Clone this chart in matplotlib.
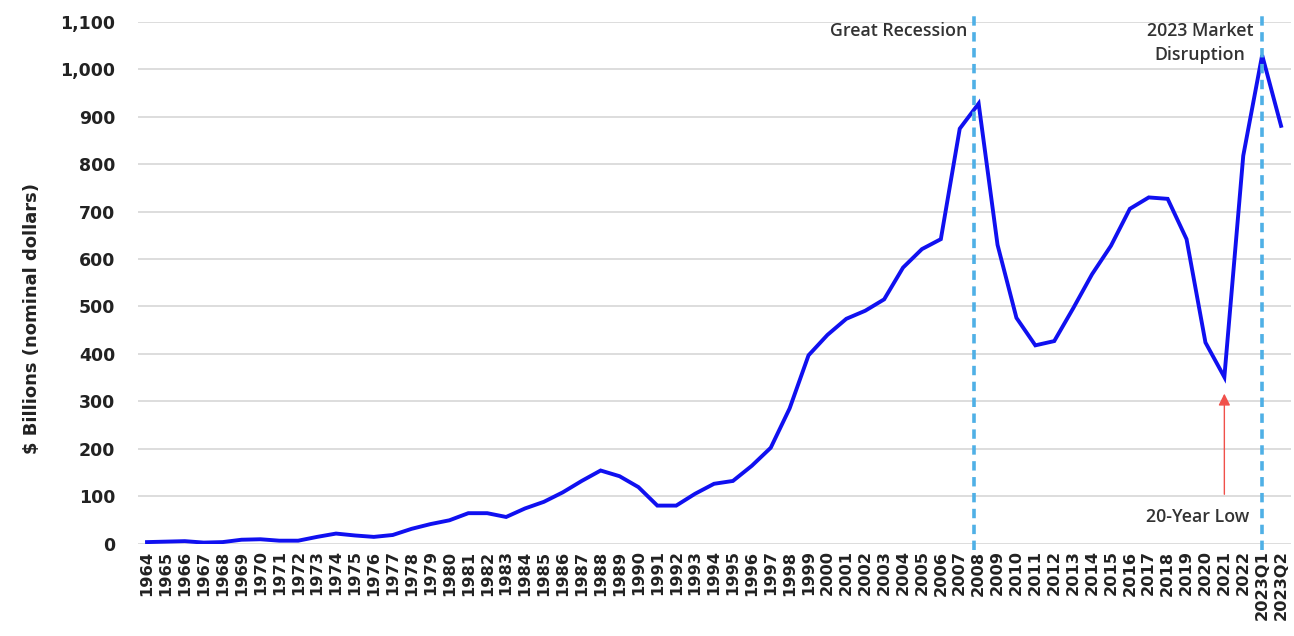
import matplotlib
matplotlib.use("Agg")
import matplotlib.pyplot as plt
import matplotlib.transforms as mtransforms
from matplotlib.ticker import FuncFormatter

# ---- data ----
years = [str(y) for y in range(1964, 2023)] + ["2023Q1", "2023Q2"]
values = [
    3, 4, 5, 2, 3, 8, 9, 6, 6, 14,          # 1964-1973
    21, 17, 14, 18, 31, 41, 49, 64, 64, 56,  # 1974-1983
    74, 88, 108, 132, 154, 142, 119, 80, 80, 105,  # 1984-1993
    126, 132, 164, 202, 285, 397, 440, 474, 491, 515,  # 1994-2003
    582, 621, 642, 875, 928, 630, 476, 418, 427, 496,  # 2004-2013
    568, 628, 706, 730, 727, 642, 424, 351, 818,       # 2014-2022
    1030, 881,                                          # 2023Q1, 2023Q2
]
yticks = [0, 100, 200, 300, 400, 500, 600, 700, 800, 900, 1000, 1100]
events = ["Great Recession", "2023 Market\nDisruption"]
event_pos = [43.75, 59]
low_label = "20-Year Low"
low_idx = 57
ylabel = "$ Billions (nominal dollars)"

plt.rcParams['font.family'] = ['DejaVu Sans']

fig = plt.figure(figsize=(12.94, 6.36), dpi=100)
ax = fig.add_axes([0.1063, 0.1454, 0.8910, 0.8200])

x = list(range(len(years)))
ax.plot(x, values, color="#1010F0", lw=2.8, solid_joinstyle="miter", zorder=3)

ax.set_xlim(-0.5, 60.5)
ax.set_ylim(0, 1100)
ax.set_yticks(yticks)
ax.yaxis.set_major_formatter(FuncFormatter(lambda v, p: f"{int(v):,}"))
ax.set_xticks(x)
ax.set_xticklabels(years, rotation=90, fontsize=11.7, fontweight="bold")
for lab in ax.get_yticklabels():
    lab.set_fontsize(12.5)
    lab.set_fontweight("bold")
ax.tick_params(axis="both", length=0, colors="#222222")
ax.tick_params(axis="x", pad=5)
ax.tick_params(axis="y", pad=16)
ax.grid(axis="y", color="#DDDDDD", lw=1.4)
ax.set_axisbelow(True)
for s in ax.spines.values():
    s.set_visible(False)

ax.set_ylabel(ylabel, fontsize=13, fontweight="bold", color="#222222")
ax.yaxis.set_label_coords(-0.084, 0.432)

trans = mtransforms.blended_transform_factory(ax.transData, ax.transAxes)
for pos in event_pos:
    ax.plot([pos, pos], [-0.012, 1.012], transform=trans, clip_on=False,
            color="#4FB0E6", lw=2.6, ls=(0, (2.6, 1.8)), zorder=4)

txt_kw = dict(fontsize=12.8, color="#333333", fontweight="semibold",
              family=["Open Sans", "DejaVu Sans"])
ax.text(event_pos[0] - 0.35, 1080, events[0], ha="right", va="center", **txt_kw)
ax.text(55.7, 1055, events[1], ha="center", va="center", linespacing=1.45, **txt_kw)

ax.annotate("", xy=(low_idx, 322), xytext=(low_idx, 98),
            arrowprops=dict(arrowstyle="-|>,head_width=0.35,head_length=0.7",
                            color="#F0504A", lw=1.0))
ax.text(58.3, 55, low_label, ha="right", va="center", **txt_kw)

fig.savefig("out.png", dpi=100, facecolor="white")
